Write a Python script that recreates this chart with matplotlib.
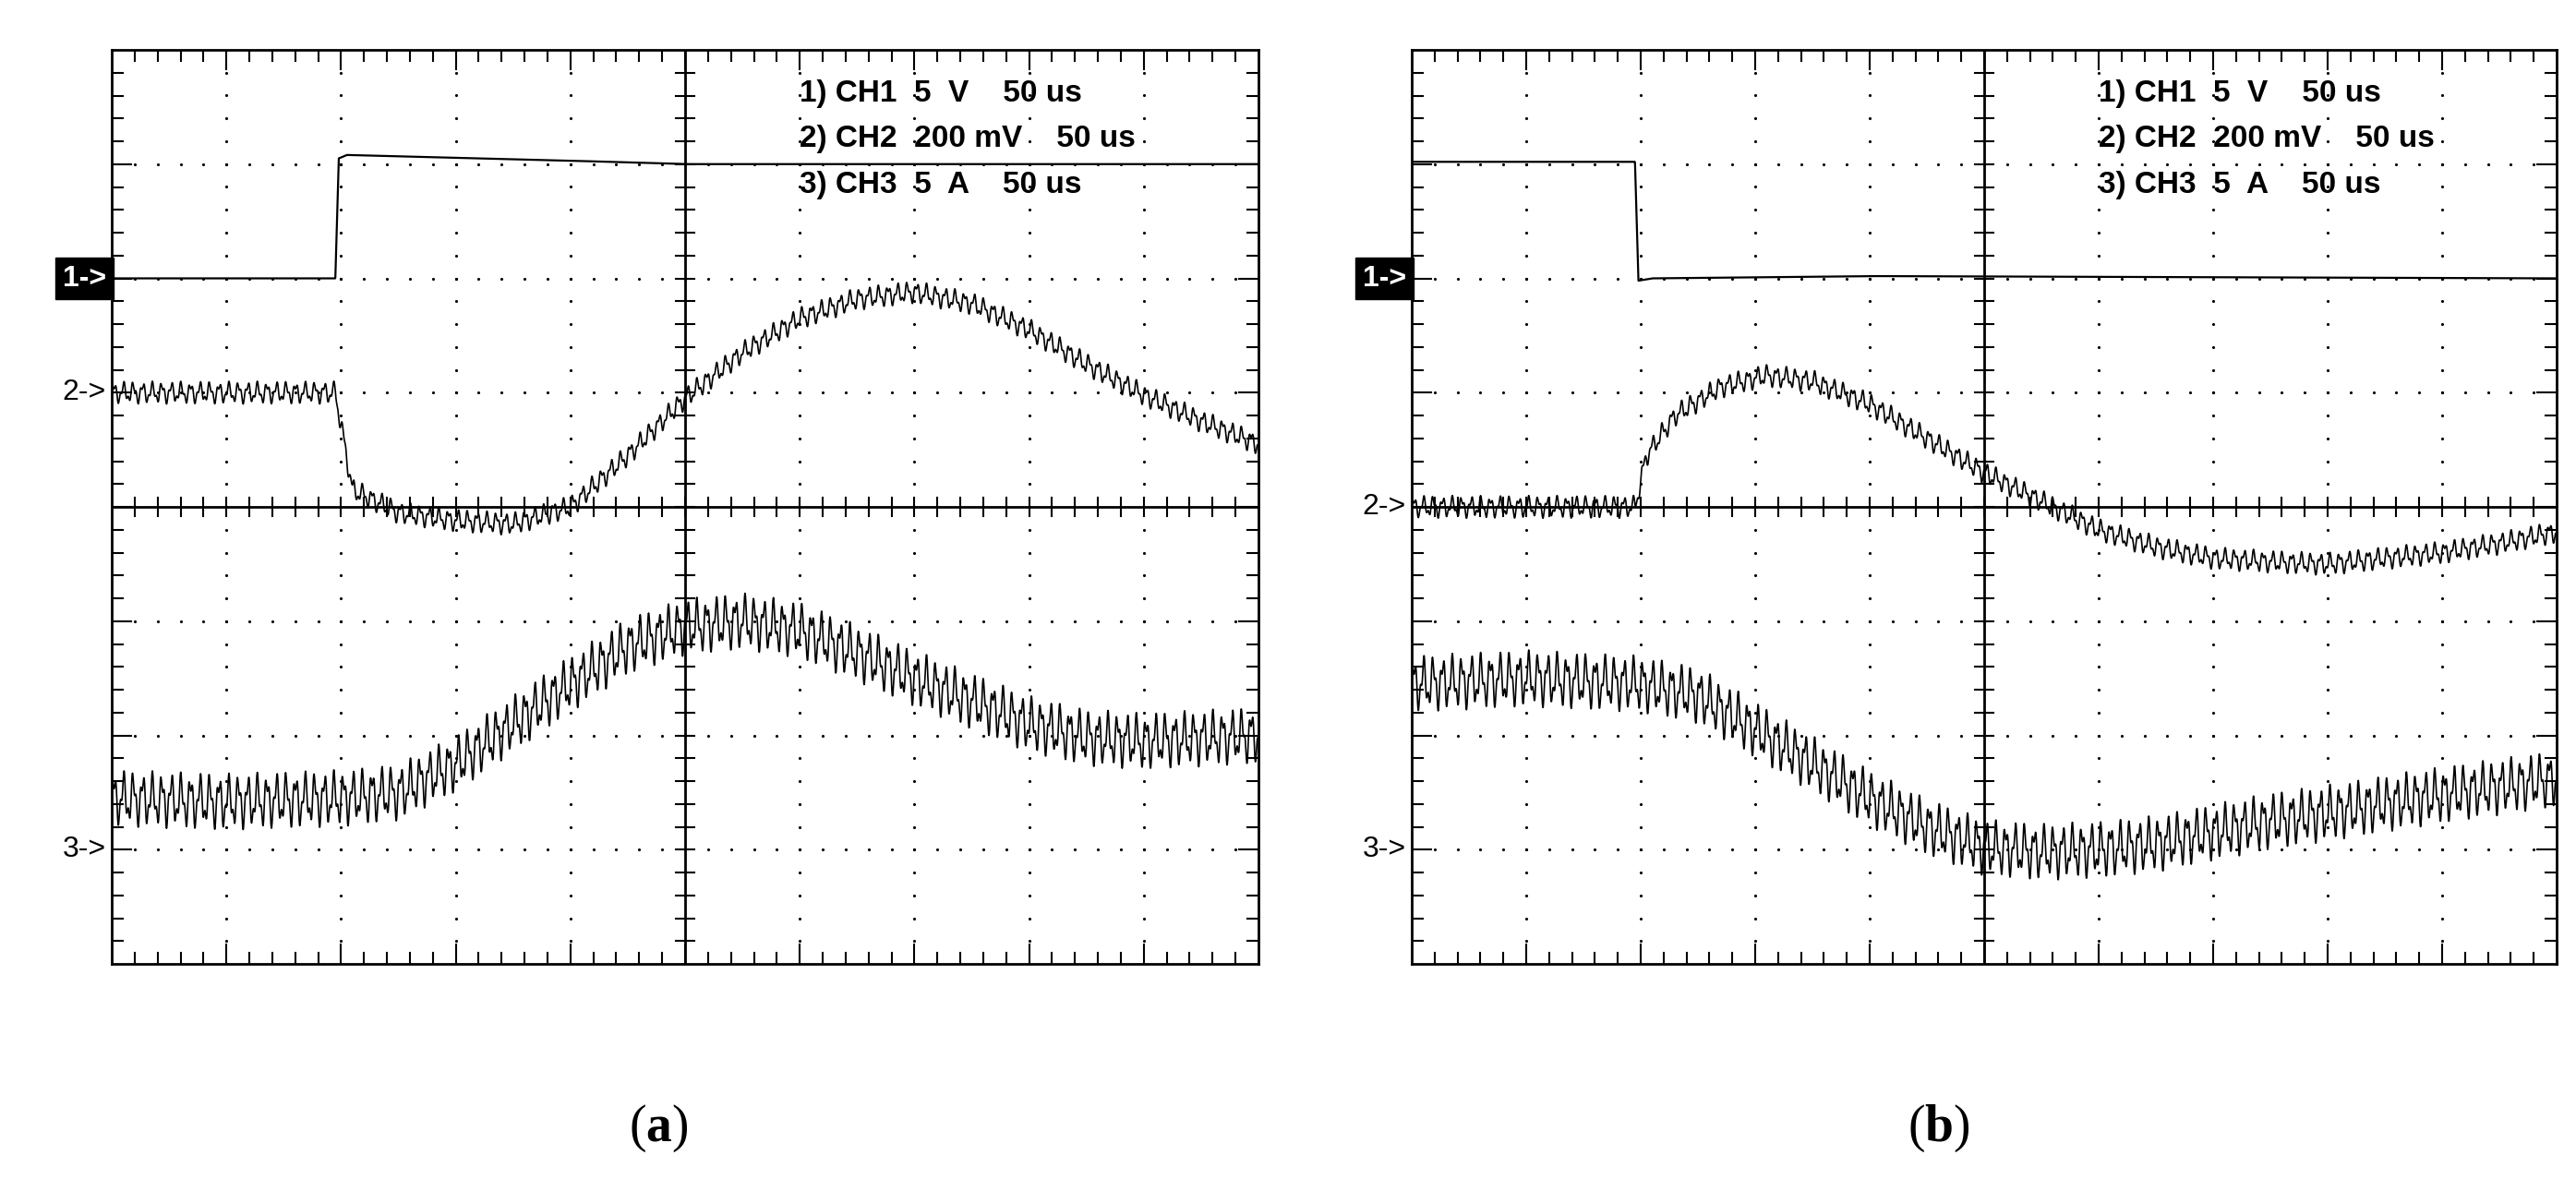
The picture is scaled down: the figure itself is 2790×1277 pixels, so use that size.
import numpy as np
import matplotlib
matplotlib.use("Agg")
import matplotlib.pyplot as plt

plt.rcParams['mathtext.fontset'] = 'custom'
plt.rcParams['mathtext.bf'] = 'Liberation Serif:bold'
plt.rcParams['mathtext.rm'] = 'Liberation Serif'

# envelope points (x in divisions, y in divisions)
ch1_a_x = [0, 1.95, 1.98, 2.05, 4.0, 5.0, 10]
ch1_a_y = [6.0, 6.0, 7.05, 7.08, 7.03, 7.0, 7.0]
ch2_a_x = [0, 1.95, 2.1, 2.5, 3.0, 3.5, 4.0, 4.5, 5.0, 5.5, 6.0, 6.5, 7.0, 7.5, 8.0, 8.5, 9.0, 9.5, 10]
ch2_a_y = [5.0, 5.0, 4.15, 3.95, 3.88, 3.85, 4.0, 4.45, 4.95, 5.35, 5.65, 5.82, 5.88, 5.78, 5.55, 5.25, 4.98, 4.75, 4.55]
ch3_a_x = [0, 1.0, 2.0, 2.5, 3.0, 3.5, 4.0, 4.5, 5.0, 5.5, 6.0, 6.5, 7.0, 7.5, 8.0, 8.5, 9.0, 10]
ch3_a_y = [1.45, 1.42, 1.45, 1.5, 1.75, 2.1, 2.45, 2.78, 2.95, 3.0, 2.92, 2.72, 2.5, 2.3, 2.1, 1.98, 1.95, 2.0]

ch1_b_x = [0, 1.95, 1.98, 2.1, 4.0, 10]
ch1_b_y = [7.02, 7.02, 5.98, 6.0, 6.02, 6.0]
ch2_b_x = [0, 1.95, 2.05, 2.3, 2.7, 3.1, 3.5, 4.0, 4.5, 5.0, 5.5, 6.0, 6.5, 7.0, 7.5, 8.0, 8.5, 9.0, 9.5, 10]
ch2_b_y = [4.0, 4.0, 4.45, 4.8, 5.05, 5.15, 5.1, 4.9, 4.6, 4.3, 4.05, 3.8, 3.65, 3.55, 3.52, 3.5, 3.55, 3.6, 3.68, 3.78]
ch3_b_x = [0, 1.0, 2.0, 2.5, 3.0, 3.5, 4.0, 4.5, 5.0, 5.5, 6.0, 6.5, 7.0, 7.5, 8.0, 8.5, 9.0, 9.5, 10]
ch3_b_y = [2.45, 2.5, 2.45, 2.35, 2.05, 1.75, 1.45, 1.2, 1.02, 0.98, 1.0, 1.05, 1.15, 1.25, 1.32, 1.4, 1.48, 1.55, 1.62]

ripple_amp = {'ch2': 0.1, 'ch3': 0.25}   # switching ripple, divisions
ripple_per_div = 12

labels = ["1) CH1  5  V    50 us", "2) CH2  200 mV    50 us", "3) CH3  5  A    50 us"]
markers_a = [6, 5, 1]
markers_b = [6, 4, 1]

t = np.linspace(0, 10, 6000)


def trace(xp, yp, amp):
    y = np.interp(t, xp, yp)
    r = np.sin(2 * np.pi * ripple_per_div * t) + 0.5 * np.sin(2 * np.pi * ripple_per_div * 2.37 * t + 1.0)
    return y + amp * r / 1.5


def scope(ax, ch1, ch2, ch3, marks):
    ax.set_xlim(0, 10)
    ax.set_ylim(0, 8)
    ax.set_xticks([]); ax.set_yticks([])
    for s in ax.spines.values():
        s.set_linewidth(2)
    # dotted grid
    for gx in range(1, 10):
        if gx != 5:
            ax.plot([gx] * 41, np.linspace(0, 8, 41), ls='none', marker='.', ms=2.5, color='k')
    for gy in range(1, 8):
        if gy != 4:
            ax.plot(np.linspace(0, 10, 51), [gy] * 51, ls='none', marker='.', ms=2.5, color='k')
    ax.axvline(5, color='k', lw=2)
    ax.axhline(4, color='k', lw=2)
    for k in range(1, 50):
        x = k / 5
        h = 0.17 if k % 5 == 0 else 0.1
        for y0 in (0, 8):
            ax.plot([x, x], [y0, y0 + (h if y0 == 0 else -h)], color='k', lw=1.5)
        ax.plot([x, x], [4 - 0.08, 4 + 0.08], color='k', lw=1.5)
    for k in range(1, 40):
        y = k / 5
        h = 0.17 if k % 5 == 0 else 0.1
        ax.plot([0, h], [y, y], color='k', lw=1.5)
        ax.plot([10 - h, 10], [y, y], color='k', lw=1.5)
        ax.plot([5 - 0.08, 5 + 0.08], [y, y], color='k', lw=1.5)
    ax.plot(t, trace(*ch1, 0), color='k', lw=1.6)
    ax.plot(t, trace(*ch2, ripple_amp['ch2']), color='k', lw=1.2)
    ax.plot(t, trace(*ch3, ripple_amp['ch3']), color='k', lw=1.2)
    for i, s in enumerate(labels):
        ax.text(6.0, 7.62 - i * 0.4, s, fontsize=24, family='Liberation Sans',
                fontweight='bold', va='center', ha='left')
    for i, m in enumerate(marks):
        if i == 0:
            ax.text(-0.05, m, "1->", fontsize=23, family='Liberation Sans', color='white',
                    ha='right', va='center', fontweight='bold',
                    bbox=dict(boxstyle='square,pad=0.25', fc='black', ec='black'))
        else:
            ax.text(-0.05, m, f"{i + 1}->", fontsize=23, family='Liberation Sans',
                    ha='right', va='center')


fig = plt.figure(figsize=(27.9, 12.77), dpi=100)
ax1 = fig.add_axes([121 / 2790, 1 - 1044 / 1277, 1242 / 2790, 990 / 1277])
ax2 = fig.add_axes([1529 / 2790, 1 - 1044 / 1277, 1240 / 2790, 990 / 1277])
scope(ax1, (ch1_a_x, ch1_a_y), (ch2_a_x, ch2_a_y), (ch3_a_x, ch3_a_y), markers_a)
scope(ax2, (ch1_b_x, ch1_b_y), (ch2_b_x, ch2_b_y), (ch3_b_x, ch3_b_y), markers_b)
fig.text(713 / 2790, 1 - 1222 / 1277, r"($\mathbf{a}$)", fontsize=40, family='Liberation Serif',
         ha='center', va='center')
fig.text(2100 / 2790, 1 - 1222 / 1277, r"($\mathbf{b}$)", fontsize=40, family='Liberation Serif',
         ha='center', va='center')
fig.savefig("out.png", dpi=100)
